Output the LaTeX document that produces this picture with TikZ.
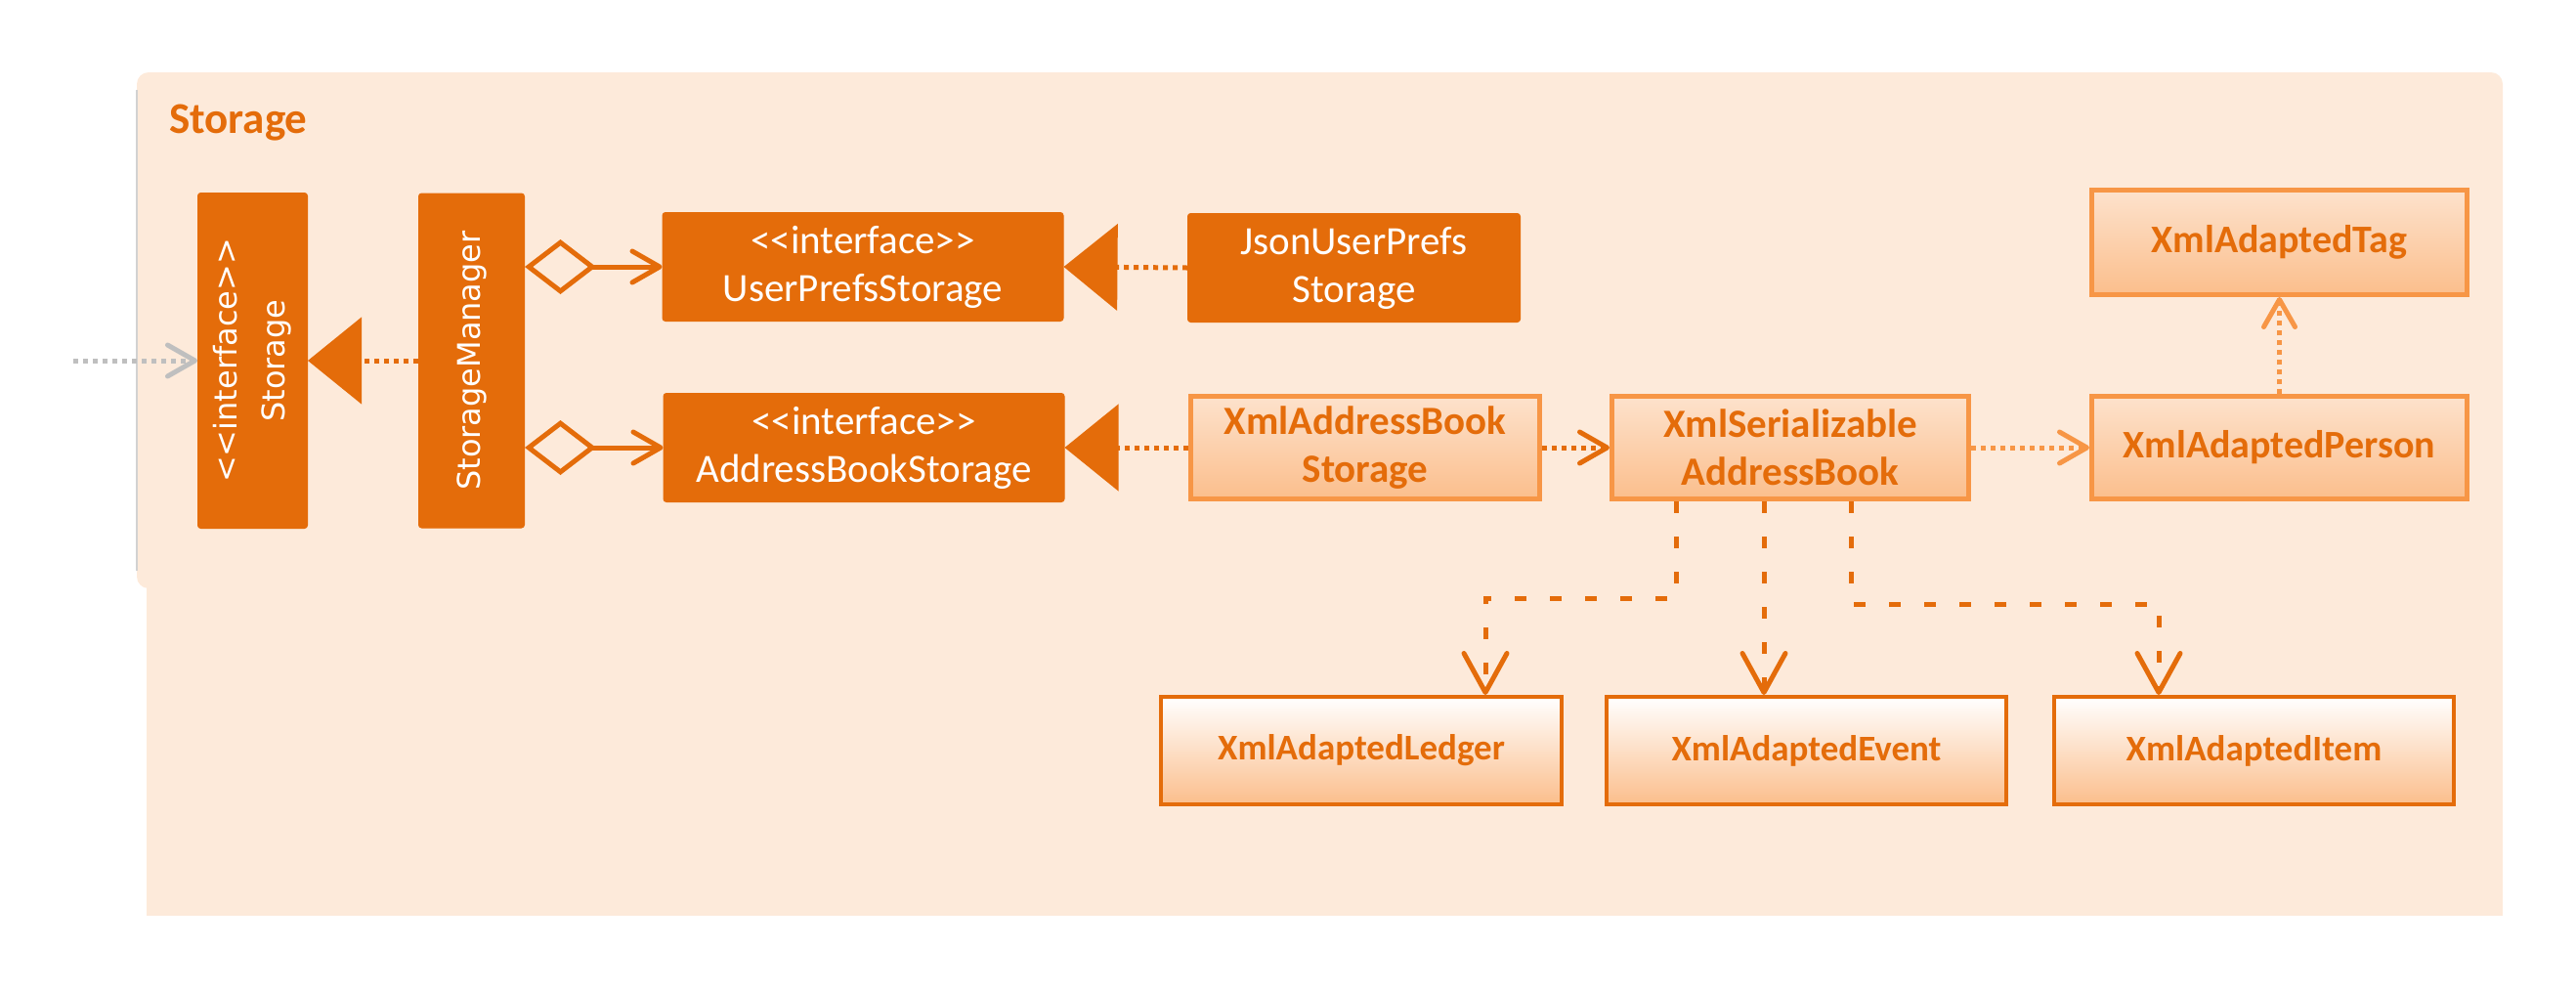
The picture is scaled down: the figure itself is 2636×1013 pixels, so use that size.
\documentclass[tikz,border=0pt]{standalone}
\usepackage{fontspec}
\setmainfont{Carlito}
\newfontfamily\verd{DejaVu Sans}
\usetikzlibrary{arrows.meta,calc}
\definecolor{dko}{HTML}{E46C0A}
\definecolor{lto}{HTML}{F79646}
\definecolor{pkg}{HTML}{FDEADA}
\definecolor{grl}{HTML}{BFBFBF}
\definecolor{gtop}{HTML}{FDE2CC}
\definecolor{gbot}{HTML}{FBBE8C}
\begin{document}
\begin{tikzpicture}[x=1pt,y=-1pt,
  darkbox/.style={fill=dko, draw=dko, line width=1pt, rounded corners=3pt, text=white, align=center, inner sep=0pt, font=\fontsize{41}{49}\selectfont},
  lightbox/.style={draw=lto, line width=5pt, top color=gtop, bottom color=gbot, text=dko, align=center, inner sep=0pt, font=\bfseries\fontsize{41}{49}\selectfont},
  whitebox/.style={draw=dko, line width=4pt, top color=white, bottom color=gbot, text=dko, align=center, inner sep=0pt, font=\bfseries\fontsize{37}{44}\selectfont},
  rotlbl/.style={rotate=90, text=white, align=center, inner sep=0pt, font=\verd\fontsize{32}{49}\selectfont},
  dotline/.style={line width=5pt, dash pattern=on 5pt off 5pt},
  dashline/.style={line width=5pt, dash pattern=on 12pt off 24pt},
  realize/.style={dko, dotline, -{Triangle[length=55pt,width=88pt]}},
  chev/.style={-{Straight Barb[length=28pt,width=32pt,round]}},
  bigchev/.style={-{Straight Barb[length=40pt,width=44pt,round]}},
  aggr/.style={dko, line width=5pt, {Diamond[open,length=73pt,width=56pt]}-{Straight Barb[length=28pt,width=32pt,round]}}
]
\useasboundingbox (0,0) rectangle (2636,1013);
% package background
\fill[pkg] (150,590) rectangle (2561,937);
\fill[pkg, rounded corners=12pt] (140,74) rectangle (2561,602);
\draw[grl!70, line width=1.2pt] (140,92) -- (140,584);
\node[anchor=base west, text=dko, inner sep=0pt, font=\bfseries\fontsize{45}{50}\selectfont] (title) at (173,136) {Storage};

% nodes
\node[darkbox, minimum width=112pt, minimum height=343pt] (storageI) at (258.5,369) {};
\node[rotlbl] (storageIlbl) at (storageI) {<{}<interface>{}>\\Storage};
\node[darkbox, minimum width=108pt, minimum height=342pt] (manager) at (482.5,369) {};
\node[rotlbl] (managerlbl) at (manager) {StorageManager};
\node[darkbox, minimum width=410pt, minimum height=111pt] (userprefs) at (883,273) {<{}<interface>{}>\\UserPrefsStorage};
\node[darkbox, minimum width=410pt, minimum height=111pt] (abs) at (884,458) {<{}<interface>{}>\\AddressBookStorage};
\node[darkbox, minimum width=340pt, minimum height=111pt] (json) at (1385.5,274) {JsonUserPrefs\\Storage};
\node[lightbox, minimum width=357pt, minimum height=105pt] (xabs) at (1397,458) {XmlAddressBook\\Storage};
\node[lightbox, minimum width=365pt, minimum height=105pt] (xsab) at (1832,458) {XmlSerializable\\AddressBook};
\node[lightbox, minimum width=384pt, minimum height=105pt, font=\bfseries\fontsize{40}{48}\selectfont] (person) at (2332.5,458) {XmlAdaptedPerson};
\node[lightbox, minimum width=384pt, minimum height=107pt, font=\bfseries\fontsize{40}{48}\selectfont] (tag) at (2332.5,248) {XmlAdaptedTag};
\node[whitebox, minimum width=410pt, minimum height=110pt] (ledger) at (1393,768) {XmlAdaptedLedger};
\node[whitebox, minimum width=409pt, minimum height=110pt] (event) at (1848.5,768) {XmlAdaptedEvent};
\node[whitebox, minimum width=409pt, minimum height=110pt] (item) at (2306.5,768) {XmlAdaptedItem};

% connectors
\coordinate (gstart) at (75,369);
\draw[grl, dotline, chev] (gstart) -- (storageI.west);
\draw[realize] (manager.west) -- (storageI.east);
\draw[realize] (json.west) -- (userprefs.east);
\draw[realize] (xabs.west |- abs.east) -- (abs.east);
\draw[aggr] (manager.east |- userprefs.west) -- (userprefs.west);
\draw[aggr] (manager.east |- abs.west) -- (abs.west);
\draw[dko, dotline, chev] (xabs.east) -- (xsab.west);
\draw[lto, dotline, chev] (xsab.east) -- (person.west);
\draw[lto, dotline, chev] (person.north) -- (tag.south);

\coordinate (l1) at (1715,612);
\coordinate (l2) at (1520,612);
\coordinate (e1) at (1805,640);
\coordinate (i1) at (1894,618);
\coordinate (i2) at (2209,618);
\draw[dko, dashline, bigchev] (xsab.south -| l1) -- (l1) -- (l2) -- (ledger.north -| l2);
\draw[dko, dashline, bigchev] (xsab.south -| e1) -- (event.north -| e1);
\draw[dko, dashline, bigchev] (xsab.south -| i1) -- (i1) -- (i2) -- (item.north -| i2);
\end{tikzpicture}
\end{document}
